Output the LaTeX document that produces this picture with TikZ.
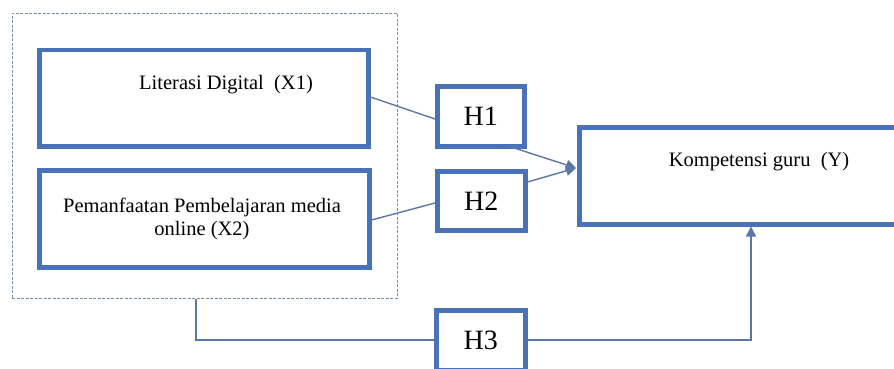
\documentclass[tikz,border=0pt]{standalone}
\usepackage{fontspec}
\setmainfont{Liberation Serif}
\usetikzlibrary{arrows.meta}
\definecolor{boxblue}{HTML}{4A72B8}
\definecolor{linecol}{HTML}{5B77A8}
\definecolor{dashcol}{HTML}{7D8DB0}
\begin{document}
\begin{tikzpicture}[x=1pt,y=-1pt,
  varbox/.style={draw=boxblue,line width=4.5pt,fill=white,inner sep=0pt},
  hbox/.style={draw=boxblue,line width=4.5pt,fill=white,inner sep=0pt,font=\fontsize{28}{30}\selectfont},
  conn/.style={draw=linecol,line width=1.4pt},
  arr/.style={conn,-{Triangle[length=10pt,width=10pt]}},
  lbl/.style={inner sep=0pt,font=\fontsize{20.5}{23}\selectfont,align=center}]
\useasboundingbox (0,0) rectangle (894,369);
\clip (0,0) rectangle (894,369);
% outer dashed group
\node[draw=dashcol,line width=0.9pt,dash pattern=on 3pt off 1.5pt,minimum width=385pt,minimum height=285pt,inner sep=0pt,anchor=north west] (grp) at (12,13) {};
% variable boxes
\node[varbox,minimum width=329pt,minimum height=96pt,anchor=north west] (x1) at (37,48) {};
\node[lbl] (x1t) at (226,85) {Literasi Digital\ \ (X1)};
\node[varbox,minimum width=330pt,minimum height=97pt,anchor=north west] (x2) at (37,168) {};
\node[lbl] (x2t) at (202,219) {Pemanfaatan Pembelajaran media\\online (X2)};
\node[varbox,minimum width=340pt,minimum height=97pt,anchor=north west] (y) at (577,125) {};
\node[lbl] (yt) at (759,162) {Kompetensi guru\ \ (Y)};
% hypothesis boxes
\node[hbox,minimum width=87pt,minimum height=60pt,anchor=north west] (h1) at (435,84) {H1};
\node[hbox,minimum width=88pt,minimum height=59pt,anchor=north west] (h2) at (435,169) {H2};
\node[hbox,minimum width=89pt,minimum height=60pt,anchor=north west] (h3) at (434,308) {H3};
% connectors
\coordinate (yin) at (576,168);
\draw[conn] (x1.east |- 0,97) -- (h1.west |- 0,119);
\draw[conn] (x2.east |- 0,220) -- (h2.west |- 0,203);
\draw[arr] (508,146) -- (yin);
\draw[arr] (h2.east |- 0,182) -- (yin);
\coordinate (g3) at (196,340);
\draw[conn] (grp.south -| g3) -- (g3) -- (h3.west |- g3);
\coordinate (g4) at (751,340);
\draw[arr] (h3.east |- g4) -- (g4) -- (g4 |- y.south);
\end{tikzpicture}
\end{document}
